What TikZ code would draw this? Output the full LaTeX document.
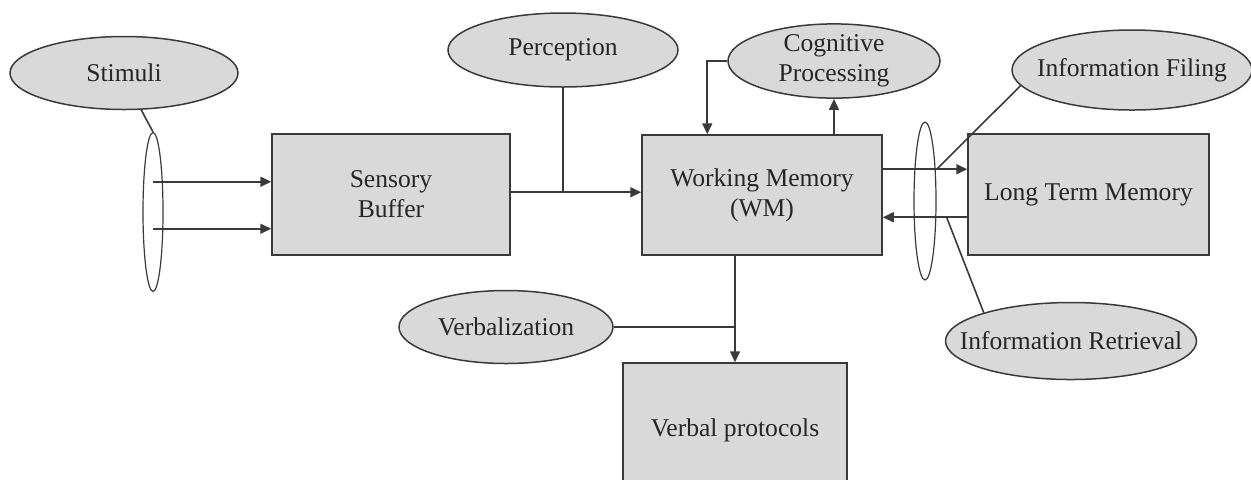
\documentclass[tikz,border=0pt]{standalone}
\usepackage{fontspec}
\setmainfont{Liberation Serif}
\usetikzlibrary{shapes.geometric,arrows.meta,calc}
\definecolor{shade}{HTML}{D9D9D9}
\definecolor{ink}{HTML}{3A3A3A}
\tikzset{
  txt/.style={font=\fontsize{12.8}{15}\selectfont, text=black!85, align=center},
  bubble/.style={ellipse, draw=ink, fill=shade, line width=0.75pt, inner sep=0pt, txt},
  ring/.style={ellipse, draw=ink, line width=0.6pt, inner sep=0pt},
  stage/.style={rectangle, draw=ink, fill=shade, line width=0.75pt, inner sep=0pt, txt},
  link/.style={draw=ink, line width=0.8pt},
  flow/.style={link, -{Triangle[length=5.5pt,width=5pt]}}
}
\begin{document}
\begin{tikzpicture}[x=0.5pt,y=-0.5pt]
\useasboundingbox (0,0) rectangle (1251,479);

% boxes
\node[stage, minimum width=119pt, minimum height=60.5pt] (sb) at (391,194.5) {Sensory\\Buffer};
\node[stage, minimum width=120pt, minimum height=60pt] (wm) at (762,195) {Working Memory\\(WM)};
\node[stage, minimum width=120.5pt, minimum height=60.5pt] (ltm) at (1088.5,194.5) {Long Term Memory};
\node[stage, minimum width=112pt, minimum height=68.5pt, text depth=0pt] (vp) at (735,431.5) {\raisebox{4pt}{Verbal protocols}};

% labels (long texts are set as centred labels so the ellipse keeps its size)
\node[bubble, minimum width=114pt, minimum height=36.5pt] (stim) at (124,73) {Stimuli};
\node[bubble, minimum width=115pt, minimum height=37pt] (perc) at (563,50) {Perception};
\node[bubble, minimum width=106pt, minimum height=36.5pt] (cog) at (834,61) {Cognitive\\Processing};
\node[bubble, minimum width=120pt, minimum height=40pt,
      label={[txt]center:Information Filing}] (fil) at (1132,70) {};
\node[bubble, minimum width=125.5pt, minimum height=38.5pt,
      label={[txt]center:Information Retrieval}] (ret) at (1071,341) {};
\node[bubble, minimum width=107pt, minimum height=36.5pt] (verb) at (506,327) {Verbalization};

% bundling rings
\node[ring, minimum width=10pt, minimum height=79.5pt] (lr) at (153,212) {};
\node[ring, minimum width=11pt, minimum height=79pt] (rr) at (925,201) {};

% inputs to the sensory buffer
\coordinate (in1) at ($(sb.north west)+(0,48.5)$);
\coordinate (in2) at ($(sb.north west)+(0,95.5)$);
\draw[link] (stim.-65) -- (lr.north);
\draw[flow] (lr.center |- in1) -- (in1);
\draw[flow] (lr.center |- in2) -- (in2);

% sensory buffer to working memory
\coordinate (mid) at ($(sb.north east)+(0,59)$);
\draw[flow] (mid) -- (mid -| wm.west);
\draw[link] (perc.south) -- (perc.south |- mid);

% cognitive processing loop
\draw[flow] (cog.west) -| ($(wm.north west)+(66,0)$);
\draw[flow] (wm.north -| cog.south) -- (cog.south);

% working memory and long term memory
\coordinate (w1) at ($(wm.north east)+(0,35)$);
\coordinate (w2) at ($(wm.north east)+(0,83)$);
\draw[flow] (w1) -- (w1 -| ltm.west);
\draw[flow] (w2 -| ltm.west) -- (w2);
\draw[link] (rr.east |- w1) -- (fil.-172);
\draw[link] ($(rr.east |- w2)+(10,0)$) -- (ret.162);

% verbal output
\draw[flow] (wm.south -| vp.north) -- (vp.north);
\draw[link] (verb.east) -- (verb.east -| vp.north);
\end{tikzpicture}
\end{document}
